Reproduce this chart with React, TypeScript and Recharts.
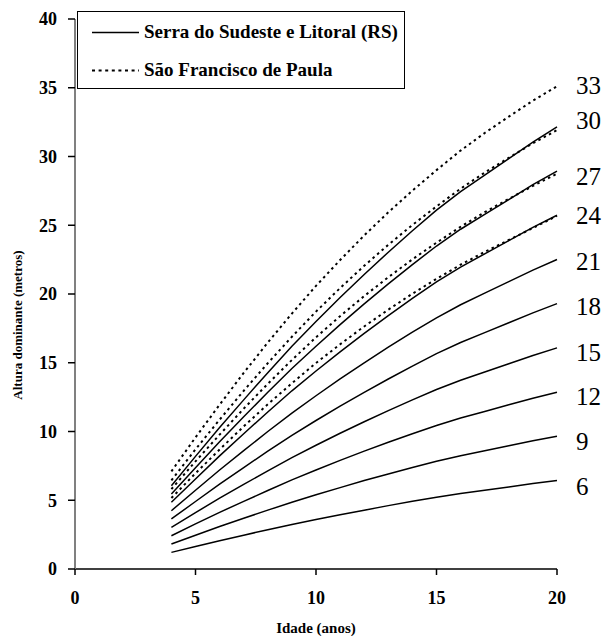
import React from 'react';
import { LineChart, Line, XAxis, YAxis, Legend, Label } from 'recharts';

const ages = [4, 5, 6, 7, 8, 9, 10, 11, 12, 13, 14, 15, 16, 17, 18, 19, 20];

// Serra do Sudeste e Litoral (RS) – solid curves, site index 6..30
const serra6 = [1.21, 1.64, 2.06, 2.46, 2.86, 3.24, 3.6, 3.95, 4.28, 4.61, 4.92, 5.22, 5.49, 5.73, 5.97, 6.21, 6.43];
const serra9 = [1.82, 2.46, 3.09, 3.69, 4.28, 4.86, 5.4, 5.92, 6.43, 6.91, 7.38, 7.83, 8.24, 8.6, 8.96, 9.32, 9.65];
const serra12 = [2.42, 3.28, 4.12, 4.92, 5.71, 6.48, 7.2, 7.9, 8.57, 9.22, 9.84, 10.44, 10.98, 11.46, 11.94, 12.42, 12.86];
const serra15 = [3.03, 4.1, 5.15, 6.15, 7.14, 8.1, 9.0, 9.87, 10.71, 11.52, 12.3, 13.05, 13.73, 14.33, 14.93, 15.53, 16.08];
const serra18 = [3.64, 4.91, 6.17, 7.38, 8.57, 9.72, 10.8, 11.84, 12.85, 13.82, 14.76, 15.66, 16.47, 17.19, 17.91, 18.63, 19.3];
const serra21 = [4.24, 5.73, 7.2, 8.61, 10.0, 11.34, 12.6, 13.82, 14.99, 16.13, 17.22, 18.27, 19.22, 20.06, 20.9, 21.74, 22.51];
const serra24 = [4.85, 6.55, 8.23, 9.84, 11.42, 12.96, 14.4, 15.79, 17.14, 18.43, 19.68, 20.88, 21.96, 22.92, 23.88, 24.84, 25.73];
const serra27 = [5.45, 7.37, 9.26, 11.07, 12.85, 14.58, 16.2, 17.77, 19.28, 20.74, 22.14, 23.49, 24.71, 25.79, 26.87, 27.95, 28.94];
const serra30 = [6.06, 8.19, 10.29, 12.3, 14.28, 16.2, 18.0, 19.74, 21.42, 23.04, 24.6, 26.1, 27.45, 28.65, 29.85, 31.05, 32.16];

// São Francisco de Paula – dotted curves, site index 24..33
const sfp24 = [5.16, 6.96, 8.69, 10.37, 11.98, 13.51, 14.98, 16.34, 17.64, 18.86, 20.02, 21.1, 22.13, 23.06, 23.93, 24.8, 25.68];
const sfp27 = [5.81, 7.83, 9.77, 11.66, 13.47, 15.2, 16.85, 18.39, 19.85, 21.22, 22.52, 23.73, 24.89, 25.95, 26.92, 27.86, 28.75];
const sfp30 = [6.45, 8.7, 10.86, 12.96, 14.97, 16.89, 18.72, 20.43, 22.05, 23.58, 25.02, 26.37, 27.66, 28.83, 29.91, 30.96, 31.92];
const sfp33 = [7.1, 9.57, 11.95, 14.26, 16.47, 18.58, 20.59, 22.47, 24.26, 25.94, 27.52, 29.01, 30.43, 31.71, 32.9, 34.06, 35.11];

const xTicks = [0, 5, 10, 15, 20];
const yTicks = [0, 5, 10, 15, 20, 25, 30, 35, 40];

const legendNames = ['Serra do Sudeste e Litoral (RS)', 'São Francisco de Paula'];
const xTitle = 'Idade (anos)';
const yTitle = 'Altura dominante (metros)';

const solidSeries = [
  { key: 's6', label: '6', values: serra6, dy: 6 },
  { key: 's9', label: '9', values: serra9, dy: 5 },
  { key: 's12', label: '12', values: serra12, dy: 4 },
  { key: 's15', label: '15', values: serra15, dy: 4 },
  { key: 's18', label: '18', values: serra18, dy: 3 },
  { key: 's21', label: '21', values: serra21, dy: 2 },
  { key: 's24', label: '24', values: serra24, dy: 0 },
  { key: 's27', label: '27', values: serra27, dy: 5 },
  { key: 's30', label: '30', values: serra30, dy: -7 },
];
const dottedSeries = [
  { key: 'd24', label: '', values: sfp24, dy: 0 },
  { key: 'd27', label: '', values: sfp27, dy: 0 },
  { key: 'd30', label: '', values: sfp30, dy: 0 },
  { key: 'd33', label: '33', values: sfp33, dy: -1 },
];

const rows = ages.map((age, i) => {
  const r: Record<string, number> = { age };
  solidSeries.forEach((s) => (r[s.key] = s.values[i]));
  dottedSeries.forEach((s) => (r[s.key] = s.values[i]));
  return r;
});

const SERIF = '"Liberation Serif", "Times New Roman", serif';
const last = ages.length - 1;

const endLabel = (text: string, dy: number) => (props: any) => {
  if (!text || props.index !== last) return null;
  const x = props.x ?? props.viewBox?.x;
  const y = props.y ?? props.viewBox?.y;
  return (
    <text x={x + 19} y={y + dy} dy="0.35em" textAnchor="start" fontFamily={SERIF} fontSize={25} fill="#000">
      {text}
    </text>
  );
};

const LegendBox = () => (
  <div style={{ width: 328, height: 78, boxSizing: 'border-box', border: '1px solid #000', background: '#fff', position: 'relative' }}>
    <svg width={326} height={76} style={{ position: 'absolute', left: 0, top: 0 }}>
      <line x1={14} x2={61} y1={20.5} y2={20.5} stroke="#000" strokeWidth={1.5} />
      <text x={66} y={25.5} fontFamily={SERIF} fontWeight="bold" fontSize={19} fill="#000">{legendNames[0]}</text>
      <line x1={14} x2={61} y1={58.5} y2={58.5} stroke="#000" strokeWidth={2} strokeDasharray="3 3.6" />
      <text x={66} y={63.5} fontFamily={SERIF} fontWeight="bold" fontSize={19} fill="#000">{legendNames[1]}</text>
    </svg>
  </div>
);

export default function App() {
  return (
    <div style={{ position: 'absolute', left: 0, top: 0, background: '#fff' }}>
      <LineChart width={606} height={636} data={rows} margin={{ top: 19, right: 49, bottom: 0, left: 0 }}>
        <XAxis
          dataKey="age"
          type="number"
          domain={[0, 20]}
          ticks={xTicks}
          interval={0}
          height={67}
          tickSize={6}
          tickMargin={16}
          axisLine={{ stroke: '#000', strokeWidth: 1.5 }}
          tickLine={{ stroke: '#000', strokeWidth: 1.5 }}
          tick={{ fill: '#000', fontSize: 18, fontWeight: 'bold', fontFamily: SERIF }}
        >
          <Label
            content={(p: any) => {
              const vb = p.viewBox || {};
              return (
                <text x={vb.x + vb.width / 2} y={633} textAnchor="middle" fontFamily={SERIF} fontWeight="bold" fontSize={15} fill="#000">
                  {xTitle}
                </text>
              );
            }}
          />
        </XAxis>
        <YAxis
          type="number"
          domain={[0, 40]}
          ticks={yTicks}
          interval={0}
          width={75}
          tickSize={7}
          tickMargin={11}
          axisLine={{ stroke: '#808080', strokeWidth: 2 }}
          tickLine={{ stroke: '#000', strokeWidth: 1.5 }}
          tick={{ fill: '#000', fontSize: 18, fontWeight: 'bold', fontFamily: SERIF }}
        >
          <Label
            content={() => (
              <text x={17} y={325} transform="rotate(-90, 17, 325)" textAnchor="middle" dominantBaseline="central" fontFamily={SERIF} fontWeight="bold" fontSize={13} fill="#000">
                {yTitle}
              </text>
            )}
          />
        </YAxis>
        <Legend
          verticalAlign="middle"
          align="center"
          layout="horizontal"
          wrapperStyle={{ left: 77, top: 11, width: 328, height: 78 }}
          content={() => <LegendBox />}
        />
        {solidSeries.map((s) => (
          <Line
            key={s.key}
            dataKey={s.key}
            type="linear"
            stroke="#000"
            strokeWidth={1.5}
            dot={false}
            activeDot={false}
            isAnimationActive={false}
            legendType="none"
            label={endLabel(s.label, s.dy)}
          />
        ))}
        {dottedSeries.map((s) => (
          <Line
            key={s.key}
            dataKey={s.key}
            type="linear"
            stroke="#000"
            strokeWidth={2}
            strokeDasharray="2.5 3.5"
            dot={false}
            activeDot={false}
            isAnimationActive={false}
            legendType="none"
            label={endLabel(s.label, s.dy)}
          />
        ))}
      </LineChart>
    </div>
  );
}
